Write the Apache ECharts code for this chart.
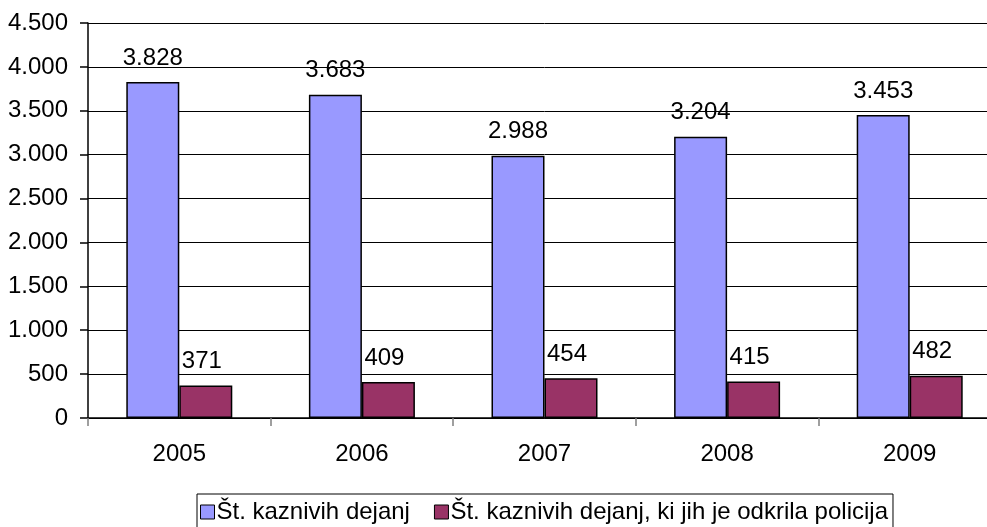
<!DOCTYPE html>
<html>
<head>
<meta charset="utf-8">
<script src="https://cdn.jsdelivr.net/npm/echarts@6/dist/echarts.min.js"></script>
<style>
  html,body{margin:0;padding:0;background:#fff;overflow:hidden;}
  /* plot area runs past the right edge of the picture, as in the original */
  #chart{width:1001px;height:527px;}
</style>
</head>
<body>
<div id="chart"></div>
<script>
var years = ['2005', '2006', '2007', '2008', '2009'];
var vsaDejanja = [3828, 3683, 2988, 3204, 3453];
var odkritaPolicija = [371, 409, 454, 415, 482];
var yTicks = [0, 500, 1000, 1500, 2000, 2500, 3000, 3500, 4000, 4500];

// pika kot locilo tisocic (3.828)
function pika(v){
  return String(v).replace(/\B(?=(\d{3})+(?!\d))/g, '.');
}

var font = 'Arial, "Liberation Sans", sans-serif';
var chart = echarts.init(document.getElementById('chart'));

var option = {
  animation: false,
  backgroundColor: '#fff',
  textStyle: {fontFamily: font},
  grid: {left: 88, top: 23, right: 0, bottom: 109, containLabel: false},
  legend: {
    left: 197,
    top: 494,
    padding: [6, 5, 8, 3],
    borderColor: '#000',
    borderWidth: 1,
    itemWidth: 14,
    itemHeight: 14,
    itemGap: 24,
    icon: 'rect',
    textStyle: {fontSize: 24, color: '#000', fontFamily: font, padding: [0, 0, 0, -3]},
    data: [
      {name: 'Št. kaznivih dejanj', itemStyle: {borderColor: '#000', borderWidth: 1}},
      {name: 'Št. kaznivih dejanj, ki jih je odkrila policija', itemStyle: {borderColor: '#000', borderWidth: 1}}
    ]
  },
  xAxis: {
    type: 'category',
    data: years,
    axisLine: {lineStyle: {color: '#000', width: 1.5}},
    axisTick: {show: true, alignWithLabel: false, length: 8, lineStyle: {color: '#808080', width: 1.5}},
    axisLabel: {fontSize: 24, color: '#000', margin: 24, fontFamily: font}
  },
  yAxis: {
    type: 'value',
    min: yTicks[0],
    max: yTicks[yTicks.length - 1],
    interval: 500,
    axisLine: {show: true, lineStyle: {color: '#000', width: 1.5}},
    axisTick: {show: true, length: 8, lineStyle: {color: '#000', width: 1.5}},
    axisLabel: {fontSize: 24, color: '#000', margin: 20, fontFamily: font, formatter: pika},
    splitLine: {show: true, lineStyle: {color: '#000', width: 1}}
  },
  series: [
    {
      name: 'Št. kaznivih dejanj',
      type: 'bar',
      data: vsaDejanja,
      barWidth: 53,
      barGap: '0%',
      itemStyle: {color: '#9999FF', borderColor: '#000', borderWidth: 1.5},
      label: {show: true, position: 'top', distance: 12, fontSize: 24, color: '#000', fontFamily: font,
        formatter: function(p){ return pika(p.value); }}
    },
    {
      name: 'Št. kaznivih dejanj, ki jih je odkrila policija',
      type: 'bar',
      data: odkritaPolicija,
      barWidth: 53,
      barGap: '0%',
      itemStyle: {color: '#993366', borderColor: '#000', borderWidth: 1.5},
      label: {show: true, position: 'top', distance: 12, fontSize: 24, color: '#000', fontFamily: font,
        offset: [-4, 0],
        formatter: function(p){ return pika(p.value); }}
    }
  ]
};
chart.setOption(option);
</script>
</body>
</html>
